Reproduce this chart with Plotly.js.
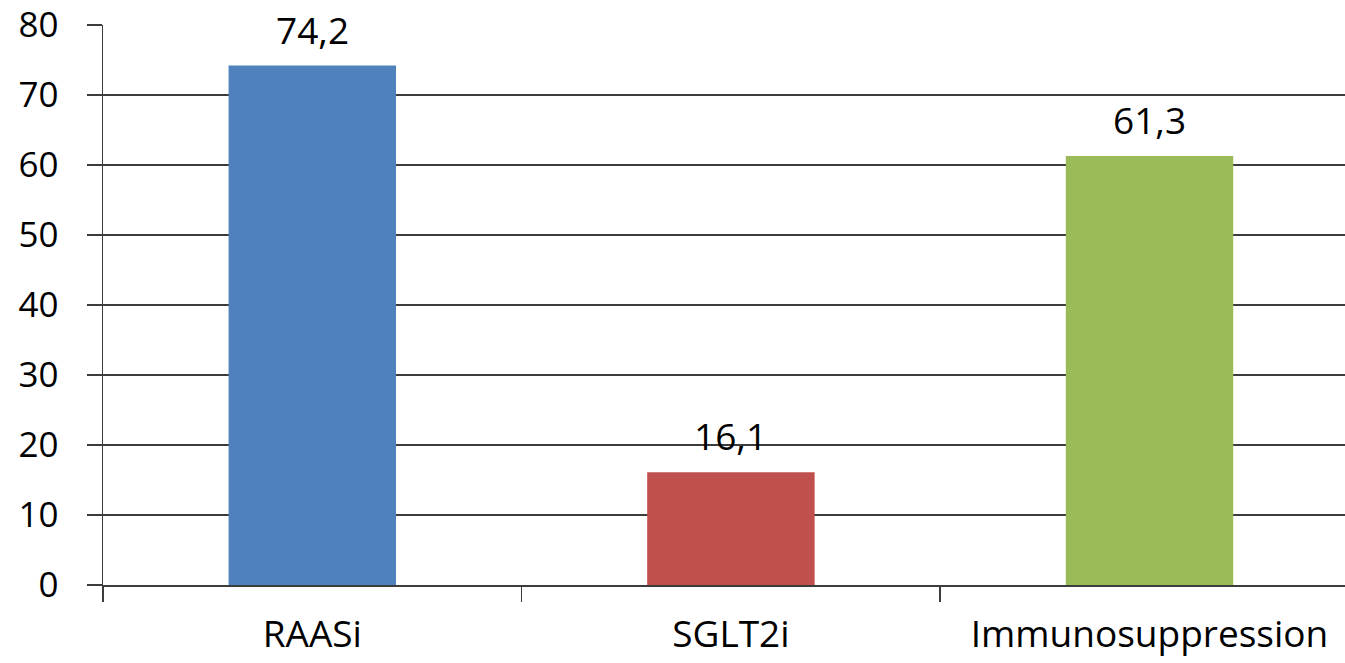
<!DOCTYPE html>
<html>
<head>
<meta charset="utf-8">
<script src="https://cdn.plot.ly/plotly-3.0.1.min.js"></script>
<style>
  html, body { margin: 0; padding: 0; background: #fff; overflow: hidden; }
  #chart { width: 1345px; height: 663px; }
</style>
</head>
<body>
<div id="chart"></div>
<script>
const categories = ["RAASi", "SGLT2i", "Immunosuppression"];
const values = [74.2, 16.1, 61.3];
const valueLabels = ["74,2", "16,1", "61,3"];
const barColors = ["#4F81BD", "#C0504D", "#9BBB59"];
const yTicks = [0, 10, 20, 30, 40, 50, 60, 70, 80];

const lineColor = "#3c3c3c";
const fontFamily = "'Open Sans', Lato, sans-serif";
const fontSize = 37;
const yFontSize = 35;

const trace = {
  type: "bar",
  x: categories,
  y: values,
  marker: { color: barColors, line: { width: 0 } },
  hoverinfo: "none"
};

const annotations = categories.map((c, i) => ({
  x: c,
  y: values[i],
  xref: "x",
  yref: "y",
  text: valueLabels[i],
  showarrow: false,
  yanchor: "bottom",
  yshift: 9,
  font: { family: fontFamily, size: fontSize, color: "#000" }
}));

const layout = {
  width: 1345,
  height: 663,
  margin: { l: 103, r: 0, t: 25, b: 78, pad: 0 },
  paper_bgcolor: "#fff",
  plot_bgcolor: "#fff",
  showlegend: false,
  bargap: 0.6,
  font: { family: fontFamily, size: fontSize, color: "#000" },
  xaxis: {
    type: "category",
    range: [-0.5, 2.467],
    tickson: "boundaries",
    ticks: "outside",
    ticklen: 15,
    tickwidth: 1.5,
    tickcolor: lineColor,
    showgrid: false,
    showline: true,
    linecolor: lineColor,
    linewidth: 1.5,
    zeroline: false,
    tickfont: { family: fontFamily, size: fontSize, color: "#000" },
    ticklabelstandoff: 16,
    ticklabeloverflow: "allow",
    fixedrange: true
  },
  yaxis: {
    range: [0, 80],
    tickvals: yTicks,
    ticktext: yTicks.map(String),
    ticks: "outside",
    ticklen: 15,
    tickwidth: 1.5,
    tickcolor: lineColor,
    showgrid: true,
    gridcolor: lineColor,
    gridwidth: 1.5,
    showline: true,
    linecolor: lineColor,
    linewidth: 1.5,
    zeroline: false,
    tickfont: { family: fontFamily, size: yFontSize, color: "#000" },
    ticklabelstandoff: 21,
    ticklabeloverflow: "allow",
    fixedrange: true
  },
  annotations: annotations
};

Plotly.newPlot("chart", [trace], layout, { displayModeBar: false, staticPlot: true });
</script>
</body>
</html>
